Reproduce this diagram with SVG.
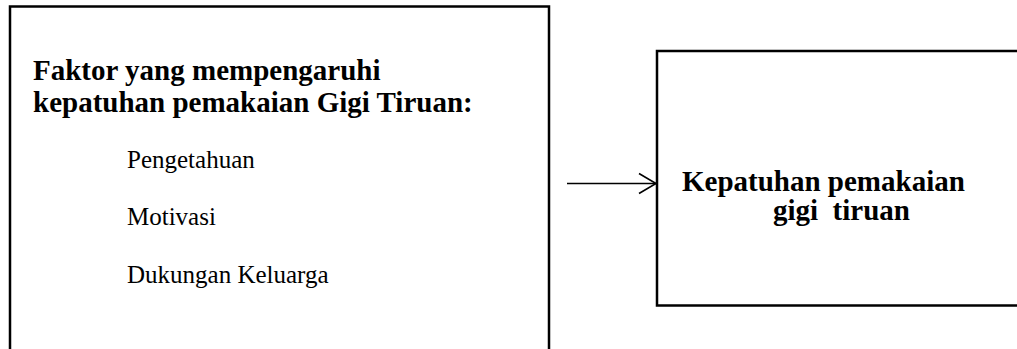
<svg xmlns="http://www.w3.org/2000/svg" width="1017" height="349" viewBox="0 0 1017 349">
  <style>
    .box { fill: none; stroke: #000; stroke-width: 2.5; }
    .bold { font-family: "Liberation Serif", "Times New Roman", serif; font-weight: bold; font-size: 29px; fill: #000; }
    .item { font-family: "Liberation Serif", "Times New Roman", serif; font-size: 25px; fill: #000; }
    .conn { fill: none; stroke: #000; stroke-width: 1.6; }
  </style>
  <rect width="1017" height="349" fill="#fff"/>

  <!-- factors box (open at the bottom edge of the canvas) -->
  <g id="factors">
    <rect class="box" x="10" y="6.5" width="539" height="360"/>
    <text class="bold" x="33" y="80">Faktor yang mempengaruhi</text>
    <text class="bold" x="33" y="112">kepatuhan pemakaian Gigi Tiruan:</text>
    <text class="item" x="127" y="168">Pengetahuan</text>
    <text class="item" x="127" y="225">Motivasi</text>
    <text class="item" x="127" y="283">Dukungan Keluarga</text>
  </g>

  <!-- outcome box (runs past the right edge) -->
  <g id="compliance">
    <rect class="box" x="657" y="51" width="380" height="254.5"/>
    <text class="bold" x="682" y="191">Kepatuhan pemakaian</text>
    <text class="bold" x="773" y="220" xml:space="preserve">gigi  tiruan</text>
  </g>

  <!-- connectors -->
  <g id="connectors">
    <line class="conn" x1="567" y1="183.5" x2="656" y2="183.5"/>
    <polyline class="conn" points="639,173.5 656,183.5 639,193.5"/>
  </g>
</svg>
